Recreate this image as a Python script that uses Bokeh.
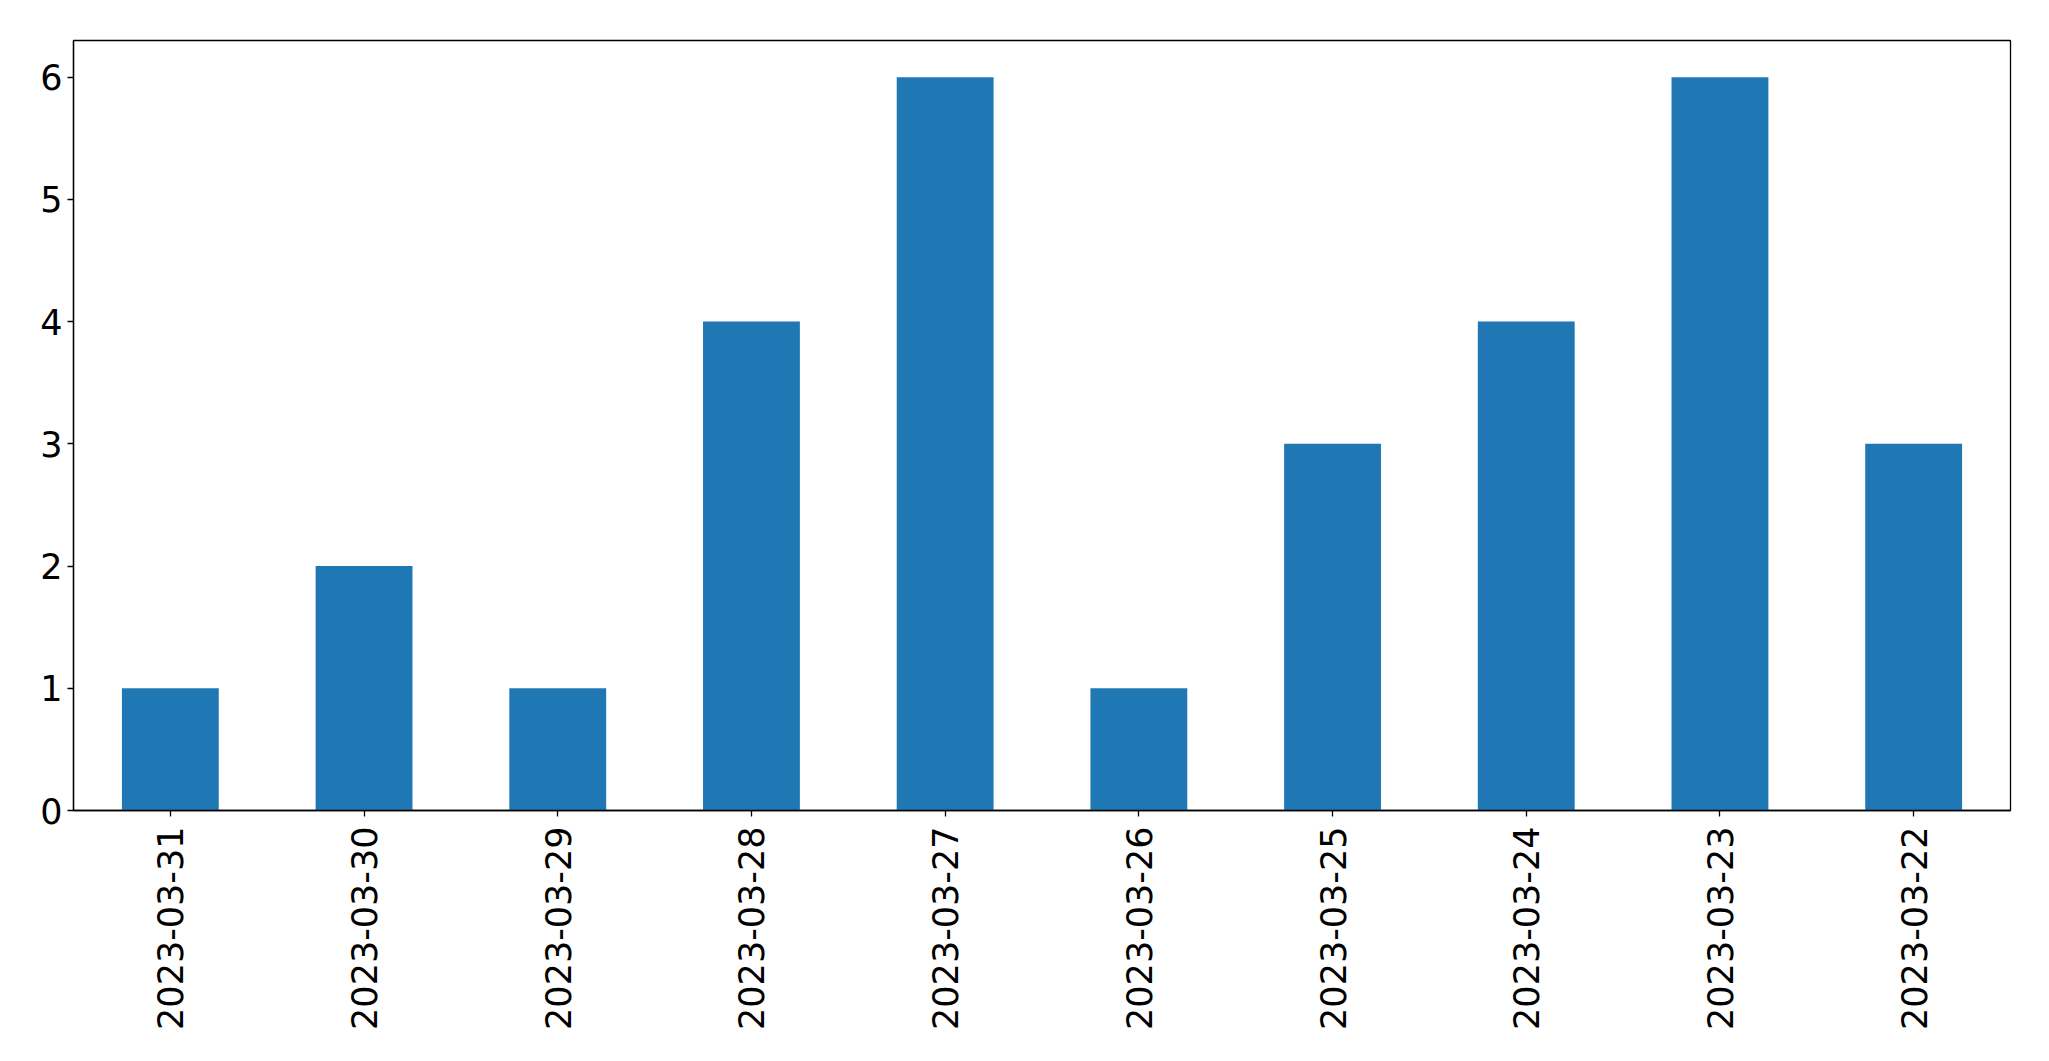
import math
from bokeh.plotting import figure
from bokeh.models import FactorRange, Range1d, FixedTicker, ColumnDataSource
from bokeh.embed import file_html
from bokeh.resources import INLINE

dates = ["2023-03-31", "2023-03-30", "2023-03-29", "2023-03-28", "2023-03-27",
         "2023-03-26", "2023-03-25", "2023-03-24", "2023-03-23", "2023-03-22"]
counts = [1, 2, 1, 4, 6, 1, 3, 4, 6, 3]
y_ticks = [0, 1, 2, 3, 4, 5, 6]

src = ColumnDataSource(dict(x=dates, top=counts))

p = figure(x_range=FactorRange(*dates), y_range=Range1d(0, 6.3),
           frame_width=1937, frame_height=770,
           min_border_left=73, min_border_right=20, min_border_top=40, min_border_bottom=226,
           output_backend="svg", toolbar_location=None,
           background_fill_color="white", border_fill_color="white")

p.vbar(x="x", top="top", width=0.5, source=src, fill_color="#1f77b4", line_color=None)

p.xgrid.visible = False
p.ygrid.visible = False
p.outline_line_color = "black"
p.outline_line_width = 1.3
p.outline_line_alpha = 1

p.yaxis.ticker = FixedTicker(ticks=y_ticks)
for ax in (p.xaxis, p.yaxis):
    ax.axis_line_color = "black"
    ax.axis_line_width = 1.3
    ax.major_tick_line_color = "black"
    ax.major_tick_line_width = 1.3
    ax.major_tick_in = 0
    ax.major_tick_out = 6
    ax.minor_tick_line_color = None
    ax.major_label_text_font = "DejaVu Sans"
    ax.major_label_text_font_size = "35px"
    ax.major_label_text_color = "black"

p.yaxis.major_label_standoff = 5
p.xaxis.major_label_standoff = 10
p.xaxis.major_label_orientation = math.pi / 2

open("out.html", "w").write(file_html(p, INLINE))
